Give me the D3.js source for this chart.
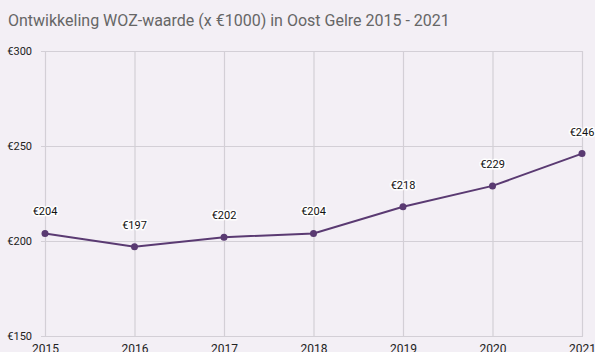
<!DOCTYPE html>
<html>
<head>
<meta charset="utf-8">
<script src="https://cdn.jsdelivr.net/npm/d3@7"></script>
<style>
  html, body { margin: 0; padding: 0; background: #f3eff5; }
  svg { display: block; font-family: Roboto, "Noto Sans", sans-serif; }
</style>
</head>
<body>
<svg id="chart" width="595" height="352"></svg>
<script>
const years = [2015, 2016, 2017, 2018, 2019, 2020, 2021];
const values = [204, 197, 202, 204, 218, 229, 246];
const yTicks = [150, 200, 250, 300];
const title = "Ontwikkeling WOZ-waarde (x €1000) in Oost Gelre 2015 - 2021";

const svg = d3.select("#chart");
const W = 595, H = 352;
const m = { left: 45, right: 13, top: 51, bottom: 16 };

svg.append("rect").attr("width", W).attr("height", H).attr("fill", "#f3eff5");

const x = d3.scaleLinear().domain([2015, 2021]).range([m.left, W - m.right]);
const y = d3.scaleLinear().domain([150, 300]).range([H - m.bottom, m.top]);

svg.append("text")
  .attr("x", 8).attr("y", 26)
  .attr("font-size", 16).attr("fill", "#666")
  .text(title);

// horizontal grid + y labels
const yAxis = d3.axisLeft(y).tickValues(yTicks)
  .tickSize(-(W - m.right - m.left + 5)).tickPadding(9)
  .tickFormat(d => "€" + d);
const gy = svg.append("g").attr("transform", `translate(${m.left - 4},0)`).call(yAxis);
gy.select(".domain").remove();
gy.selectAll(".tick line").attr("stroke", "#d3cfd6").attr("stroke-width", 1.2);
gy.selectAll(".tick text").attr("font-size", 11).attr("fill", "#222")
  .attr("font-family", "Roboto, sans-serif");

// vertical grid + x labels
const xAxis = d3.axisBottom(x).tickValues(years)
  .tickSize(-(H - m.bottom - m.top)).tickPadding(8)
  .tickFormat(d3.format("d"));
const gx = svg.append("g").attr("transform", `translate(0,${H - m.bottom})`).call(xAxis);
gx.select(".domain").remove();
gx.selectAll(".tick line").attr("stroke", "#d3cfd6").attr("stroke-width", 1.2);
gx.selectAll(".tick text").attr("font-size", 12).attr("fill", "#222")
  .attr("font-family", "Roboto, sans-serif");

const data = years.map((yr, i) => ({ yr, v: values[i] }));

svg.append("path").datum(data)
  .attr("fill", "none").attr("stroke", "#5a3a72").attr("stroke-width", 2)
  .attr("d", d3.line().x(d => x(d.yr)).y(d => y(d.v)));

svg.selectAll("circle.pt").data(data).join("circle")
  .attr("class", "pt")
  .attr("cx", d => x(d.yr)).attr("cy", d => y(d.v)).attr("r", 3.5)
  .attr("fill", "#5a3a72");

svg.selectAll("text.lbl").data(data).join("text")
  .attr("class", "lbl")
  .attr("x", d => x(d.yr)).attr("y", d => y(d.v) - 18)
  .attr("text-anchor", "middle").attr("font-size", 11).attr("fill", "#111")
  .attr("stroke", "#fff").attr("stroke-width", 3).attr("stroke-linejoin", "round")
  .attr("paint-order", "stroke")
  .text(d => "€" + d.v);
</script>
</body>
</html>
